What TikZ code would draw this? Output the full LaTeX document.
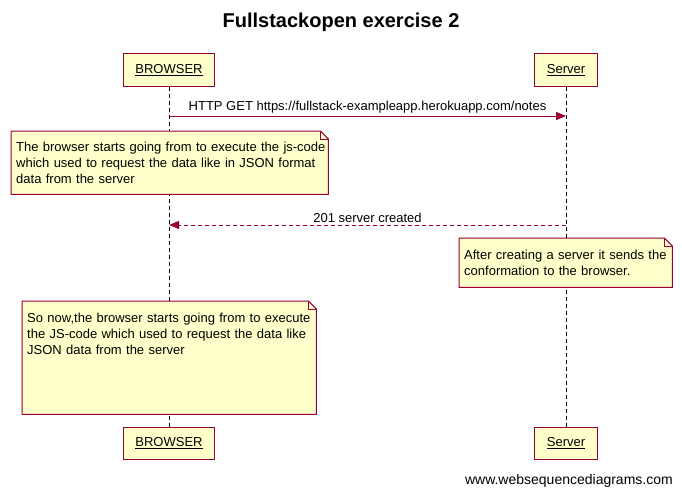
\documentclass[tikz,border=0pt]{standalone}
\usepackage{fontspec}
\setmainfont{Liberation Sans}
\usetikzlibrary{calc,arrows.meta,backgrounds}
\usepackage{xcolor}
\definecolor{wsdred}{RGB}{153,0,51}
\definecolor{wsdyellow}{RGB}{255,255,204}

\begin{document}
\begin{tikzpicture}[x=1pt,y=-1pt]
  \tikzstyle{mytext}=[font=\fontsize{13}{16}\selectfont, text=black];
  \tikzstyle{actor}=[mytext, draw=wsdred, fill=wsdyellow, line width=1pt,
    minimum height=32pt, inner xsep=12pt];
  \tikzstyle{lifeline}=[dash pattern=on 4pt off 3pt, line width=0.8pt];
  \tikzstyle{mynote}=[mytext, anchor=north west, align=left, inner xsep=5pt,
    inner ysep=0pt];
  \tikzstyle{notebox}=[draw=wsdred, fill=wsdyellow, line width=1pt,
    line join=miter];
  \tikzstyle{myconn}=[draw=wsdred, line width=1pt,
    -{Triangle[length=10pt,width=8pt]}];
  %
  \useasboundingbox (0,0) rectangle (682,495);
  %
  % title
  \node[font=\fontsize{20}{24}\selectfont\bfseries] (title) at (341,22)
  {Fullstackopen exercise 2};
  %
  % participants
  \node[actor] (browsertop) at (169,70) {\underline{BROWSER}};
  \node[actor] (servertop) at (566,70) {\underline{Server}};
  \node[actor] (browserbot) at (169,443) {\underline{BROWSER}};
  \node[actor] (serverbot) at (566,443) {\underline{Server}};
  %
  % messages
  \coordinate (m1) at (0,116);
  \draw[myconn] (browsertop |- m1)
  -- node[mytext, above, inner sep=2pt] {HTTP GET https://fullstack-exampleapp.herokuapp.com/notes}
  (servertop |- m1);
  %
  \coordinate (m2) at (0,225);
  \draw[myconn, dash pattern=on 4pt off 3pt] (servertop |- m2)
  -- node[mytext, above, inner sep=2pt] {201 server created}
  (browsertop |- m2);
  %
  % notes
  \node[mynote, text width=307pt, minimum height=63pt] (note1) at (11,131) {
    \mbox{The browser starts going from to execute the js-code}\\
    which used to request the data like in JSON format\\
    data from the server};
  %
  \node[mynote, text width=203pt, minimum height=49pt] (note2) at (459,238) {
    After creating a server it sends the\\
    conformation to the browser.};
  %
  \node[mynote, text width=284pt, minimum height=113pt] (note3) at (22,301) {
    So now,the browser starts going from to execute\\
    the JS-code which used to request the data like\\
    JSON data from the server\\~\\~\\~};
  %
  % footer
  \node[font=\fontsize{14}{16}\selectfont, anchor=east, inner sep=0pt]
  (footer) at (673,481) {www.websequencediagrams.com};
  %
  % lifelines and note shapes behind
  \begin{pgfonlayer}{background}
    \draw[lifeline] (browsertop) -- (browserbot);
    \draw[lifeline] (servertop) -- (serverbot);
    \foreach \n in {note1,note2,note3} {
      \draw[notebox] (\n.north west) -- ($(\n.north east)-(8,0)$)
      -- ($(\n.north east)+(0,8)$) -- (\n.south east)
      -- (\n.south west) -- cycle;
      \draw[draw=wsdred, line width=0.6pt] ($(\n.north east)-(8,0)$)
      |- ($(\n.north east)+(0,8)$);
    }
  \end{pgfonlayer}
\end{tikzpicture}
\end{document}
